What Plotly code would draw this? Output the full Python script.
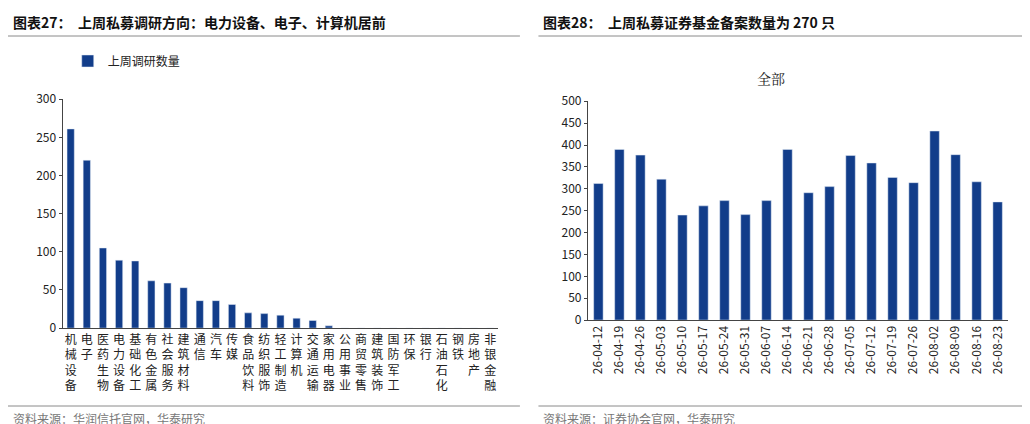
import plotly.graph_objects as go

cats = ["机械设备","电子","医药生物","电力设备","基础化工","有色金属","社会服务","建筑材料","通信","汽车","传媒",
        "食品饮料","纺织服饰","轻工制造","计算机","交通运输","家用电器","公用事业","商贸零售","建筑装饰","国防军工",
        "环保","银行","石油石化","钢铁","房地产","非银金融"]
vals = [261,220,105,89,88,62,59,53,36,36,31,20,19,17,13,10,3,0,0,0,0,0,0,0,0,0,0]
dates = ["26-04-12","26-04-19","26-04-26","26-05-03","26-05-10","26-05-17","26-05-24","26-05-31","26-06-07","26-06-14",
         "26-06-21","26-06-28","26-07-05","26-07-12","26-07-19","26-07-26","26-08-02","26-08-09","26-08-16","26-08-23"]
counts = [312,390,377,322,240,261,273,241,273,390,291,305,376,359,326,314,432,378,316,270]

C = "#123d8a"
F = "Noto Sans CJK SC"
fig = go.Figure()
fig.add_trace(go.Bar(x=cats, y=vals, marker_color=C, width=0.45, xaxis="x", yaxis="y", name="上周调研数量"))
fig.add_trace(go.Bar(x=dates, y=counts, marker_color=C, width=0.45, xaxis="x2", yaxis="y2", showlegend=False))

def vt(s): return "<br>".join(s)
fig.update_layout(
    width=1030, height=424, margin=dict(l=0, r=0, t=0, b=0, autoexpand=False), plot_bgcolor="white", paper_bgcolor="white",
    font=dict(family=F, size=12, color="#222"), showlegend=True,
    legend=dict(x=0.058, y=0.875, xanchor="left", yanchor="middle", font=dict(size=12), bgcolor="rgba(0,0,0,0)"),
    xaxis=dict(domain=[0.053, 0.476], anchor="y", type="category", tickmode="array", tickvals=cats,
               ticktext=[vt(c) for c in cats], automargin=False,
               tickangle=0, showline=True, linecolor="#444", ticks="", tickfont=dict(size=12)),
    yaxis=dict(domain=[0.245, 0.785], range=[0, 300], dtick=50, showline=True, linecolor="#444", ticks="outside",
               ticklen=3, showgrid=False, tickfont=dict(size=12), automargin=False),
    xaxis2=dict(domain=[0.563, 0.971], anchor="y2", type="category", tickangle=-90, showline=True, linecolor="#444",
                ticks="", tickfont=dict(size=12), automargin=False),
    yaxis2=dict(domain=[0.264, 0.78], anchor="x2", range=[0, 500], dtick=50, showline=True, linecolor="#444",
                ticks="outside", ticklen=3, showgrid=False, tickfont=dict(size=12), automargin=False),
)
ann = [
    dict(x=0.003, y=1-14/424, text="<b>图表27：  上周私募调研方向：电力设备、电子、计算机居前</b>", size=14),
    dict(x=0.517, y=1-14/424, text="<b>图表28：  上周私募证券基金备案数量为 270 只</b>", size=14),
    dict(x=0.003, y=1-410/424, text="资料来源：华润信托官网，华泰研究", size=12, color="#777"),
    dict(x=0.517, y=1-410/424, text="资料来源：证券协会官网，华泰研究", size=12, color="#777"),
]
for a in ann:
    fig.add_annotation(xref="paper", yref="paper", x=a["x"], y=a["y"], text=a["text"], showarrow=False,
                       xanchor="left", yanchor="middle", font=dict(size=a["size"], color=a.get("color", "#111"), family=F))
fig.add_annotation(xref="paper", yref="paper", x=0.756, y=1-58/424, text="全部", showarrow=False,
                   font=dict(size=14, family="Noto Serif CJK SC, " + F))
for x0, x1 in [(0.0, 0.497), (0.515, 1.0)]:
    for yy in [1-28/424, 1-398/424]:
        fig.add_shape(type="line", xref="paper", yref="paper", x0=x0, x1=x1, y0=yy, y1=yy,
                      line=dict(color="#8a8a8a", width=1))
fig.write_html("out.html")
